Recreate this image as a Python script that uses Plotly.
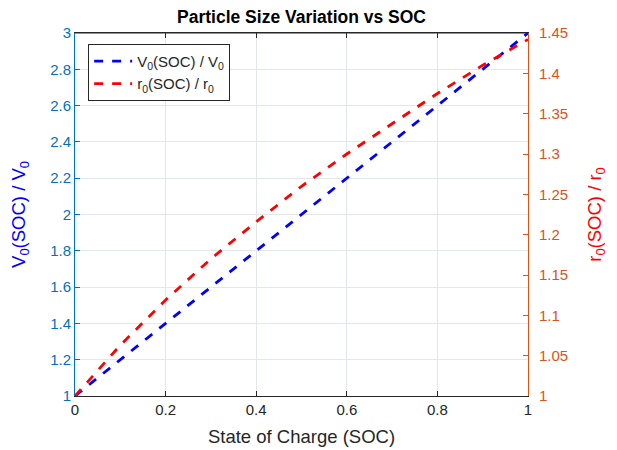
import plotly.graph_objects as go

soc = [0, 0.1, 0.2, 0.3, 0.4, 0.5, 0.6, 0.7, 0.8, 0.9, 1.0]
v_ratio = [1.0, 1.2, 1.4, 1.6, 1.8, 2.0, 2.2, 2.4, 2.6, 2.8, 3.0]
r_ratio = [1.0, 1.063, 1.119, 1.17, 1.216, 1.26, 1.3, 1.338, 1.375, 1.41, 1.442]

blue_axis = '#0072BD'
orange_axis = '#D95319'
font = 'Arial, Liberation Sans, sans-serif'

fig = go.Figure()
fig.add_trace(go.Scatter(x=soc, y=v_ratio, mode='lines', name='V<sub>0</sub>(SOC) / V<sub>0</sub>',
                         line=dict(color='#0000FF', width=2.8, dash='dash'), yaxis='y'))
fig.add_trace(go.Scatter(x=soc, y=r_ratio, mode='lines', name='r<sub>0</sub>(SOC) / r<sub>0</sub>',
                         line=dict(color='#FF0000', width=2.8, dash='dash'), yaxis='y2'))

# page body adds an 8px offset, so margins are shifted to compensate
fig.update_layout(
    width=617, height=450,
    margin=dict(l=67, r=97, t=25, b=62),
    paper_bgcolor='white', plot_bgcolor='white',
    font=dict(family=font, size=15, color='#262626'),
    title=dict(text='<b>Particle Size Variation vs SOC</b>', x=(67 + 520) / 2 / 617, xanchor='center',
               y=1 - 9 / 450, yanchor='middle', font=dict(size=17.5, color='black')),
    xaxis=dict(range=[0, 1], dtick=0.2, showgrid=True, gridcolor='#E3E6EA', automargin=False,
               showline=True, linecolor='#262626', linewidth=1, mirror='ticks',
               ticks='inside', ticklen=5, tickcolor='#262626', zeroline=False,
               title=dict(text='State of Charge (SOC)', font=dict(size=18.5, color='#262626'), standoff=13),
               tickfont=dict(size=15, color='#262626')),
    yaxis=dict(range=[1, 3], dtick=0.2, showgrid=True, gridcolor='#E3E6EA', automargin=False,
               showline=True, linecolor=blue_axis, linewidth=1, ticks='inside', ticklen=5,
               tickcolor=blue_axis, zeroline=False, tickfont=dict(size=15, color=blue_axis),
               title=dict(text='V<sub>0</sub>(SOC) / V<sub>0</sub>', font=dict(size=18.5, color='#0000FF'), standoff=20)),
    yaxis2=dict(range=[1, 1.45], dtick=0.05, overlaying='y', side='right', showgrid=False, automargin=False,
                showline=True, linecolor=orange_axis, linewidth=1, ticks='inside', ticklen=5,
                tickcolor=orange_axis, zeroline=False, tickfont=dict(size=15, color=orange_axis),
                ticklabelstandoff=7,
                title=dict(text='r<sub>0</sub>(SOC) / r<sub>0</sub>', font=dict(size=18.5, color='#FF0000'), standoff=20)),
    legend=dict(x=0.029, y=0.97, xanchor='left', yanchor='top', bgcolor='white',
                bordercolor='#262626', borderwidth=1, font=dict(size=15, color='#262626'),
                tracegroupgap=0, itemwidth=38),
    showlegend=True,
)
# top border line
fig.add_shape(type='line', xref='paper', yref='paper', x0=0, x1=1, y0=1, y1=1,
              line=dict(color='#262626', width=1))

fig.write_html("out.html")
